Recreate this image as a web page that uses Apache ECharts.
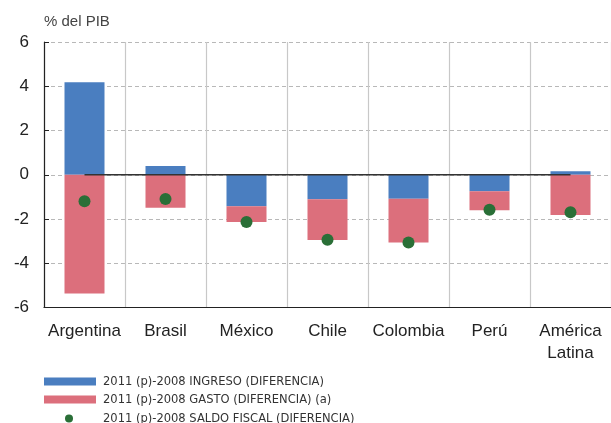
<!DOCTYPE html>
<html>
<head>
<meta charset="utf-8">
<script src="https://cdn.jsdelivr.net/npm/echarts@6/dist/echarts.min.js"></script>
<style>html,body{margin:0;padding:0;background:#fff}#c{width:611px;height:423px}</style>
</head>
<body>
<div id="c"></div>
<script>
var categories = ['Argentina', 'Brasil', 'México', 'Chile', 'Colombia', 'Perú', 'América\nLatina'];
var ingreso = [4.18, 0.40, -1.42, -1.11, -1.08, -0.75, 0.16];
var gasto = [-5.37, -1.49, -0.72, -1.84, -1.98, -0.85, -1.82];
var saldo = [-1.20, -1.10, -2.14, -2.94, -3.06, -1.58, -1.70];
var zeroLine = [0, 0, 0, 0, 0, 0, 0];
var seriesNames = ['2011 (p)-2008 INGRESO (DIFERENCIA)', '2011 (p)-2008 GASTO (DIFERENCIA) (a)', '2011 (p)-2008 SALDO FISCAL (DIFERENCIA)'];

var chart = echarts.init(document.getElementById('c'));
var font = "'Liberation Sans', Arial, sans-serif";
var legendFont = "'DejaVu Sans Condensed', 'Liberation Sans', sans-serif";
var legendTops = [375, 393, 412];
var legends = seriesNames.map(function (n, i) {
  var isDot = i === 2;
  return {
    orient: 'horizontal', left: isDot ? 65 : 44, top: legendTops[i], padding: 0,
    itemWidth: isDot ? 8 : 52, itemHeight: 8,
    data: [{ name: n, icon: isDot ? 'circle' : 'rect' }],
    textStyle: { fontSize: 12.8, color: '#333', fontFamily: legendFont, padding: [0, 0, 0, isDot ? 25 : 2] }
  };
});
chart.setOption({
  animation: false,
  textStyle: { fontFamily: font },
  title: {
    text: '% del PIB', left: 39, top: 9,
    textStyle: { fontSize: 15, fontWeight: 'normal', color: '#444', fontFamily: font }
  },
  legend: legends,
  grid: { left: 44, right: 0, top: 42, bottom: 115.5, containLabel: false },
  xAxis: {
    type: 'category', data: categories,
    axisLine: { onZero: false, lineStyle: { color: '#222', width: 1.2 } },
    axisTick: { inside: true, length: 4, lineStyle: { color: '#222' } },
    axisLabel: { fontSize: 17, color: '#222', margin: 13, lineHeight: 22, interval: 0 },
    splitLine: { show: true, lineStyle: { color: '#c8c8c8', width: 1.2, type: 'solid' } }
  },
  yAxis: {
    type: 'value', min: -6, max: 6, interval: 2,
    axisLine: { show: true, lineStyle: { color: '#222', width: 1.2 } },
    axisTick: { show: true, inside: true, length: 5, lineStyle: { color: '#222' } },
    axisLabel: { fontSize: 17, color: '#222', margin: 15 },
    splitLine: { lineStyle: { color: '#b8b8b8', type: [4, 3], width: 1 } }
  },
  series: [
    { name: seriesNames[0], type: 'bar', stack: 'a', data: ingreso, barWidth: 40,
      itemStyle: { color: '#4a7ec0' } },
    { name: seriesNames[1], type: 'bar', stack: 'a', data: gasto, barWidth: 40,
      itemStyle: { color: '#dc6f7c' } },
    { name: 'cero', type: 'line', data: zeroLine, symbol: 'none', silent: true, z: 5,
      lineStyle: { color: '#333', width: 1.3 } },
    { name: seriesNames[2], type: 'scatter', data: saldo, symbolSize: 12, z: 6,
      itemStyle: { color: '#2a6f37', opacity: 1 } }
  ]
});
</script>
</body>
</html>
